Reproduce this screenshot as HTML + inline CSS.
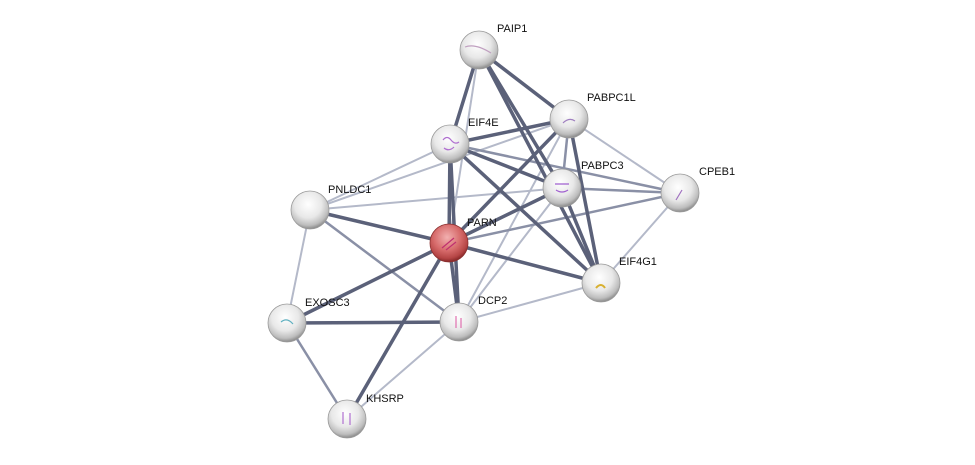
<!DOCTYPE html>
<html><head><meta charset="utf-8"><style>
html,body{margin:0;padding:0;background:#fff;}
svg{display:block;}
text{font-family:"Liberation Sans",sans-serif;font-size:11px;fill:#111;}
</style></head><body>
<svg width="975" height="465" viewBox="0 0 975 465" xmlns="http://www.w3.org/2000/svg">
<defs>
<radialGradient id="g" cx="45%" cy="35%" r="65%">
<stop offset="0" stop-color="#ffffff"/><stop offset="0.55" stop-color="#e8e8e8"/><stop offset="0.85" stop-color="#bdbdbd"/><stop offset="1" stop-color="#8a8a8a"/>
</radialGradient>
<radialGradient id="r" cx="45%" cy="35%" r="65%">
<stop offset="0" stop-color="#f2b0b0"/><stop offset="0.55" stop-color="#d66a6a"/><stop offset="0.85" stop-color="#b54545"/><stop offset="1" stop-color="#862727"/>
</radialGradient>
</defs>
<g stroke-linecap="round">
<g stroke="#b4b9c9" stroke-width="2">
<line x1="569" y1="119" x2="680" y2="193"/>
<line x1="569" y1="119" x2="459" y2="322"/>
<line x1="450" y1="144" x2="310" y2="210"/>
<line x1="569" y1="119" x2="310" y2="210"/>
<line x1="562" y1="188" x2="459" y2="322"/>
<line x1="680" y1="193" x2="601" y2="283"/>
<line x1="310" y1="210" x2="287" y2="323"/>
<line x1="310" y1="210" x2="562" y2="188"/>
<line x1="601" y1="283" x2="459" y2="322"/>
<line x1="459" y1="322" x2="347" y2="419"/>
<line x1="479" y1="50" x2="449" y2="243"/>
</g>
<g stroke="#8a90a6" stroke-width="2.5">
<line x1="569" y1="119" x2="562" y2="188"/>
<line x1="450" y1="144" x2="680" y2="193"/>
<line x1="562" y1="188" x2="680" y2="193"/>
<line x1="680" y1="193" x2="449" y2="243"/>
<line x1="310" y1="210" x2="459" y2="322"/>
<line x1="287" y1="323" x2="347" y2="419"/>
</g>
<g stroke="#5b6179" stroke-width="3.5">
<line x1="479" y1="50" x2="450" y2="144"/>
<line x1="479" y1="50" x2="569" y2="119"/>
<line x1="479" y1="50" x2="562" y2="188"/>
<line x1="479" y1="50" x2="601" y2="283"/>
<line x1="569" y1="119" x2="450" y2="144"/>
<line x1="569" y1="119" x2="449" y2="243"/>
<line x1="569" y1="119" x2="601" y2="283"/>
<line x1="450" y1="144" x2="562" y2="188"/>
<line x1="450" y1="144" x2="449" y2="243"/>
<line x1="450" y1="144" x2="601" y2="283"/>
<line x1="450" y1="144" x2="459" y2="322"/>
<line x1="562" y1="188" x2="601" y2="283"/>
<line x1="562" y1="188" x2="449" y2="243"/>
<line x1="310" y1="210" x2="449" y2="243"/>
<line x1="449" y1="243" x2="601" y2="283"/>
<line x1="449" y1="243" x2="459" y2="322"/>
<line x1="449" y1="243" x2="287" y2="323"/>
<line x1="449" y1="243" x2="347" y2="419"/>
<line x1="287" y1="323" x2="459" y2="322"/>
</g>
</g>
<g stroke="#9a9a9a" stroke-width="0.8">
<circle cx="479" cy="50" r="19" fill="url(#g)"/>
<circle cx="569" cy="119" r="19" fill="url(#g)"/>
<circle cx="450" cy="144" r="19" fill="url(#g)"/>
<circle cx="562" cy="188" r="19" fill="url(#g)"/>
<circle cx="680" cy="193" r="19" fill="url(#g)"/>
<circle cx="310" cy="210" r="19" fill="url(#g)"/>
<circle cx="449" cy="243" r="19" fill="url(#r)" stroke="#8a3030"/>
<circle cx="601" cy="283" r="19" fill="url(#g)"/>
<circle cx="287" cy="323" r="19" fill="url(#g)"/>
<circle cx="459" cy="322" r="19" fill="url(#g)"/>
<circle cx="347" cy="419" r="19" fill="url(#g)"/>
</g>
<g fill="none" stroke-width="1.2">
<path d="M443 140 q4 -5 8 0 t8 2 M444 148 q5 4 10 -1" stroke="#b070d0"/>
<path d="M555 184 h14 M556 190 q6 4 12 0" stroke="#a060d0"/>
<path d="M442 248 l12 -10 M446 250 l10 -8" stroke="#c03070"/>
<path d="M596 288 q5 -6 9 0" stroke="#d8b030" stroke-width="2"/>
<path d="M281 322 q6 -5 12 2" stroke="#60b0c0"/>
<path d="M456 316 v12 M461 318 v10" stroke="#e070b0"/>
<path d="M343 412 v12 M350 413 v12" stroke="#b070d0"/>
<path d="M676 200 l6 -10" stroke="#a070c0"/>
<path d="M465 47 q10 -4 26 6" stroke="#c0a0c0"/>
<path d="M563 123 q6 -6 12 -2" stroke="#a080c0"/>
</g>
<text x="497" y="32">PAIP1</text>
<text x="587" y="101">PABPC1L</text>
<text x="468" y="126">EIF4E</text>
<text x="581" y="169">PABPC3</text>
<text x="699" y="175">CPEB1</text>
<text x="328" y="193">PNLDC1</text>
<text x="467" y="226">PARN</text>
<text x="619" y="265">EIF4G1</text>
<text x="305" y="306">EXOSC3</text>
<text x="478" y="304">DCP2</text>
<text x="366" y="402">KHSRP</text>
</svg>
</body></html>
